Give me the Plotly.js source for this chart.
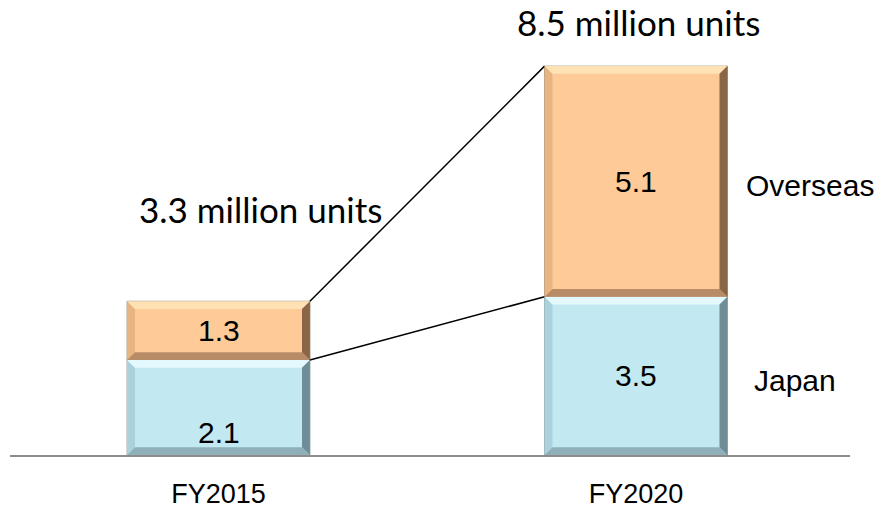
<!DOCTYPE html>
<html>
<head>
<meta charset="utf-8">
<script src="https://cdn.plot.ly/plotly-3.0.1.min.js"></script>
<style>html,body{margin:0;padding:0;background:#fff;}#chart{width:880px;height:509px;}</style>
</head>
<body>
<div id="chart"></div>
<script>
// ---- data ----
const categories = ['FY2015', 'FY2020'];
const japan = [2.1, 3.5];
const overseas = [1.3, 5.1];
const totalLabels = ['3.3 million units', '8.5 million units'];
const seriesNames = ['Japan', 'Overseas'];

// ---- style ----
const barWidth = 0.438;
const japanFace = '#c2e8f1';
const japanTop = '#e4f9fd';
const japanRight = '#6f8d96';
const japanBottom = '#8fb0b8';
const japanLeft = '#a9d2dc';
const overFace = '#fdca98';
const overTop = '#fee2b4';
const overRight = '#8a6646';
const overBottom = '#b88c66';
const overLeft = '#e8b482';

const xs = categories.map((c, i) => i);
const overBase = japan.slice();
const totals = japan.map((v, i) => v + overseas[i]);

const traces = [
  {type: 'bar', x: xs, y: japan, width: barWidth, name: seriesNames[0],
   marker: {color: japanFace, line: {color: '#9aa8ab', width: 1}}, hoverinfo: 'none'},
  {type: 'bar', x: xs, y: overseas, base: overBase, width: barWidth, name: seriesNames[1],
   marker: {color: overFace, line: {color: '#a89888', width: 1}}, hoverinfo: 'none'},
  {type: 'scatter', mode: 'lines', x: [xs[0] + barWidth / 2, xs[1] - barWidth / 2],
   y: [totals[0], totals[1]], line: {color: '#000', width: 1.5}, hoverinfo: 'none'},
  {type: 'scatter', mode: 'lines', x: [xs[0] + barWidth / 2, xs[1] - barWidth / 2],
   y: [japan[0], japan[1]], line: {color: '#000', width: 1.5}, hoverinfo: 'none'}
];

// bevel shapes derived from data values
const dx = 0.019, dy = 0.17;
function bevel(c, y0, y1, cols) {
  const x0 = c - barWidth / 2, x1 = c + barWidth / 2;
  const mk = (pts, col) => ({type: 'path', xref: 'x', yref: 'y', layer: 'above',
    path: 'M' + pts.map(p => p[0] + ',' + p[1]).join(' L') + ' Z',
    fillcolor: col, line: {width: 0}});
  return [
    mk([[x0, y0], [x0 + dx, y0 + dy], [x0 + dx, y1 - dy], [x0, y1]], cols.left),
    mk([[x0, y1], [x1, y1], [x1 - dx, y1 - dy], [x0 + dx, y1 - dy]], cols.top),
    mk([[x0, y0], [x1, y0], [x1 - dx, y0 + dy], [x0 + dx, y0 + dy]], cols.bottom),
    mk([[x1, y1], [x1, y0], [x1 - dx, y0 + dy], [x1 - dx, y1 - dy]], cols.right)
  ];
}
let shapes = [];
xs.forEach((c, i) => {
  shapes = shapes.concat(bevel(c, 0, japan[i], {left: japanLeft, top: japanTop, bottom: japanBottom, right: japanRight}));
  shapes = shapes.concat(bevel(c, japan[i], totals[i], {left: overLeft, top: overTop, bottom: overBottom, right: overRight}));
});

const arial = 'Liberation Sans, Arial, sans-serif';
const calibri = 'Lato, Noto Sans, sans-serif';
const annotations = [];
const japanShift = [-25, 0];
xs.forEach((c, i) => {
  annotations.push({x: c, y: japan[i] / 2, xref: 'x', yref: 'y', text: japan[i].toFixed(1),
    showarrow: false, yshift: japanShift[i], font: {family: arial, size: 30, color: '#000'}});
  annotations.push({x: c, y: japan[i] + overseas[i] / 2, xref: 'x', yref: 'y', text: overseas[i].toFixed(1),
    showarrow: false, font: {family: arial, size: 30, color: '#000'}});
});
annotations.push({x: 0.0994, y: 5.44, xref: 'x', yref: 'y', text: totalLabels[0], showarrow: false,
  font: {family: calibri, size: 35, color: '#000'}});
annotations.push({x: 1.005, y: 9.58, xref: 'x', yref: 'y', text: totalLabels[1], showarrow: false,
  font: {family: calibri, size: 35, color: '#000'}});
annotations.push({x: 1.417, y: 5.95, xref: 'x', yref: 'y', text: seriesNames[1], showarrow: false,
  font: {family: arial, size: 30, color: '#000'}});
annotations.push({x: 1.381, y: 1.64, xref: 'x', yref: 'y', text: seriesNames[0], showarrow: false,
  font: {family: arial, size: 30, color: '#000'}});

const layout = {
  width: 880, height: 509,
  margin: {l: 10, r: 30, t: 20, b: 54},
  paper_bgcolor: '#fff', plot_bgcolor: '#fff',
  showlegend: false,
  barmode: 'overlay',
  xaxis: {range: [-0.4994, 1.5126], tickvals: xs, ticktext: categories,
    showgrid: false, zeroline: false, showline: true, linecolor: '#8c8c8c', linewidth: 2,
    ticks: '', ticklabelstandoff: 14, tickfont: {family: arial, size: 27, color: '#000'}, fixedrange: true},
  yaxis: {range: [0, 9.62], visible: false, fixedrange: true},
  shapes: shapes,
  annotations: annotations
};

Plotly.newPlot('chart', traces, layout, {staticPlot: true, displayModeBar: false});
</script>
</body>
</html>
